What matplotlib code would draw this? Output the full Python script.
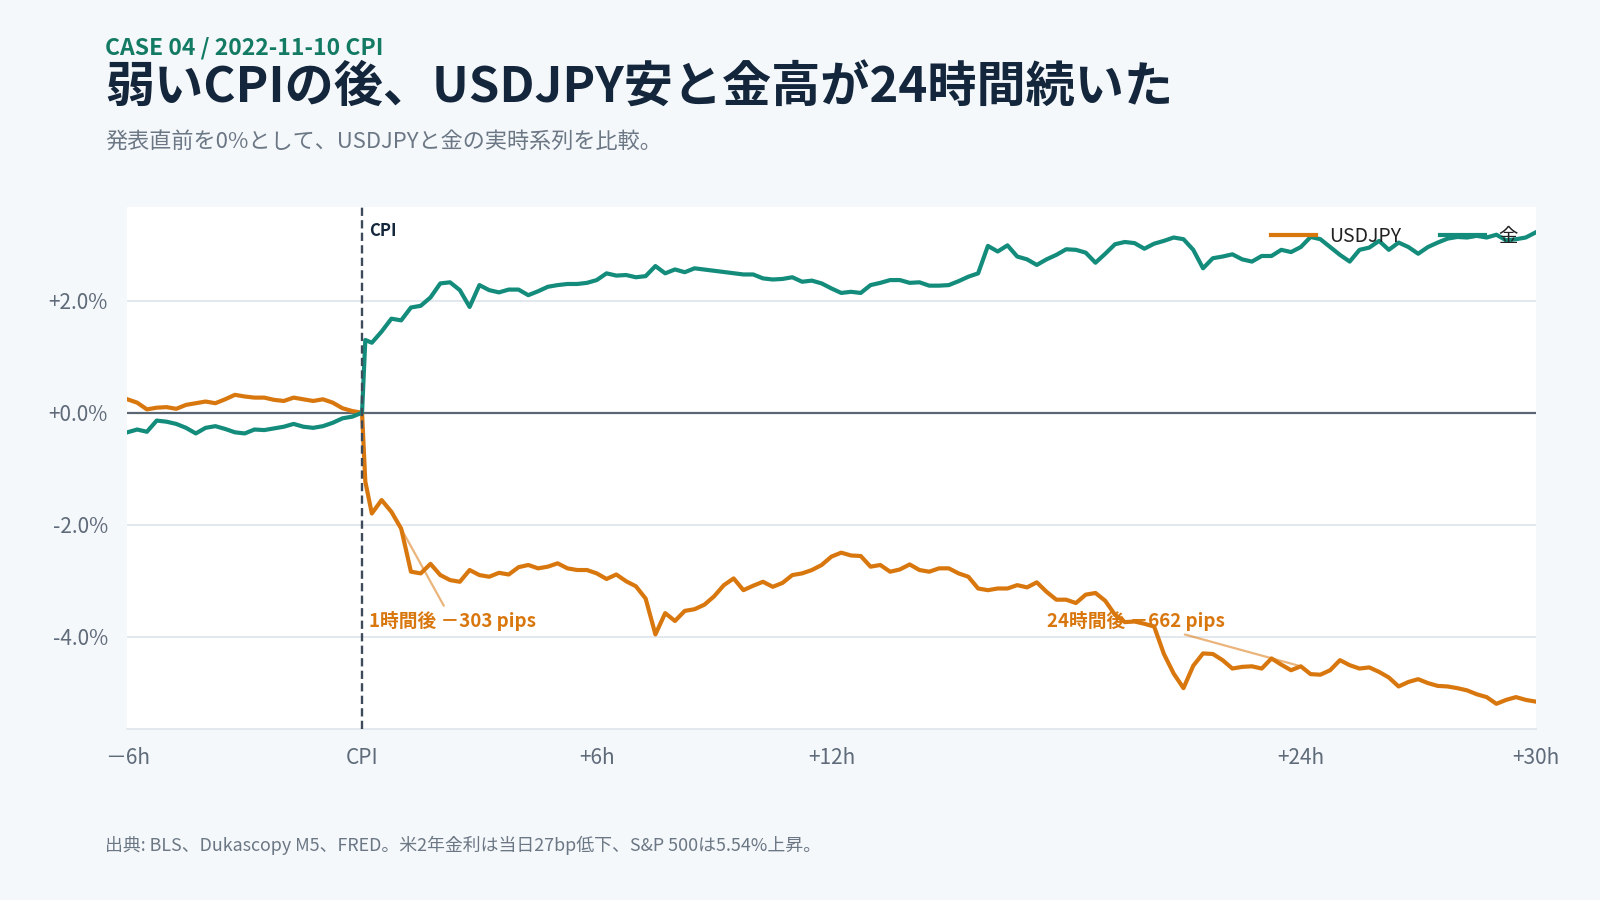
import numpy as np
import matplotlib
matplotlib.use("Agg")
import matplotlib.pyplot as plt

plt.rcParams['font.family'] = ['Noto Sans CJK JP', 'DejaVu Sans']

# time axis in hours from the CPI release (15-min bars, plus the first 5-min bar after release)
pre_hours = np.arange(-6, 0.001, 0.25)
post_hours = np.arange(0.25, 30.001, 0.25)
hours = np.concatenate([pre_hours, [1 / 12], post_hours])

# % change vs. the bar just before the release
usdjpy_pre = [0.24, 0.18, 0.06, 0.09, 0.10, 0.07, 0.14, 0.17, 0.20, 0.17, 0.24, 0.32,
              0.29, 0.27, 0.27, 0.23, 0.21, 0.27, 0.24, 0.21, 0.24, 0.18, 0.08, 0.03, 0.00]
usdjpy_first = [-1.23]
usdjpy_post = [
    -1.80, -1.56, -1.77, -2.07,   # +1h
    -2.84, -2.87, -2.70, -2.90,
    -2.99, -3.02, -2.81, -2.90,
    -2.93, -2.86, -2.89, -2.76,
    -2.72, -2.78, -2.75, -2.69,   # +5h
    -2.78, -2.81, -2.81, -2.87,
    -2.97, -2.89, -3.01, -3.10,
    -3.32, -3.96, -3.58, -3.72,
    -3.54, -3.51, -3.43, -3.28,
    -3.08, -2.96, -3.17, -3.09,   # +10h
    -3.02, -3.11, -3.04, -2.90,
    -2.87, -2.81, -2.72, -2.57,
    -2.50, -2.55, -2.56, -2.75,
    -2.72, -2.84, -2.80, -2.71,
    -2.81, -2.84, -2.78, -2.78,   # +15h
    -2.87, -2.93, -3.14, -3.17,
    -3.14, -3.14, -3.08, -3.12,
    -3.03, -3.20, -3.34, -3.34,
    -3.40, -3.25, -3.22, -3.36,
    -3.61, -3.74, -3.73, -3.77,   # +20h
    -3.82, -4.31, -4.66, -4.92,
    -4.52, -4.30, -4.31, -4.42,
    -4.57, -4.54, -4.53, -4.57,
    -4.39, -4.50, -4.60, -4.53,   # +24h
    -4.67, -4.68, -4.60, -4.42,
    -4.51, -4.57, -4.55, -4.63,
    -4.73, -4.89, -4.81, -4.76,
    -4.83, -4.88, -4.89, -4.92,
    -4.96, -5.03, -5.08, -5.20,
    -5.13, -5.08, -5.13, -5.16,   # +30h
]

gold_pre = [-0.35, -0.30, -0.34, -0.14, -0.16, -0.20, -0.27, -0.37, -0.27, -0.24, -0.29, -0.35,
            -0.37, -0.30, -0.31, -0.28, -0.25, -0.20, -0.25, -0.27, -0.24, -0.18, -0.10, -0.07, 0.00]
gold_first = [1.30]
gold_post = [
    1.25, 1.45, 1.68, 1.65,   # +1h
    1.88, 1.91, 2.06, 2.31,
    2.33, 2.19, 1.89, 2.28,
    2.19, 2.15, 2.20, 2.20,
    2.10, 2.17, 2.25, 2.28,   # +5h
    2.30, 2.30, 2.32, 2.37,
    2.49, 2.45, 2.46, 2.42,
    2.44, 2.62, 2.49, 2.56,
    2.51, 2.58, None, None,   # no quotes
    None, None, 2.47, 2.47,   # +10h
    2.40, 2.38, 2.39, 2.42,
    2.34, 2.36, 2.31, 2.22,
    2.14, 2.16, 2.14, 2.28,
    2.32, 2.37, 2.37, 2.32,
    2.33, 2.27, 2.27, 2.28,   # +15h
    2.35, 2.43, 2.49, 2.98,
    2.88, 2.99, 2.79, 2.74,
    2.64, 2.74, 2.82, 2.92,
    2.91, 2.86, 2.68, 2.84,
    3.01, 3.05, 3.03, 2.93,   # +20h
    3.02, 3.07, 3.13, 3.10,
    2.91, 2.58, 2.76, 2.79,
    2.83, 2.74, 2.70, 2.80,
    2.80, 2.91, 2.87, 2.96,   # +24h
    3.14, 3.10, 2.96, 2.82,
    2.70, 2.91, 2.95, 3.07,
    2.91, 3.04, 2.96, 2.84,
    2.96, 3.04, 3.11, 3.14,
    3.13, 3.16, 3.13, 3.18,
    3.08, 3.10, 3.13, 3.22,   # +30h
]

x_ticks = [-6, 0, 6, 12, 24, 30]
x_tick_labels = ['\uff0d6h', 'CPI', '+6h', '+12h', '+24h', '+30h']
y_ticks = [-4, -2, 0, 2]
y_tick_labels = ['-4.0%', '-2.0%', '+0.0%', '+2.0%']

notes = [(1, -2.07, '1時間後 \uff0d303 pips', (0.17, -3.72)),
         (24, -4.53, '24時間後 \uff0d662 pips', (17.5, -3.72))]

ORANGE = '#d9770f'
TEAL = '#138c7c'
NAVY = '#13263b'
GRAY = '#6b7785'

usdjpy = np.array(usdjpy_pre + usdjpy_first + usdjpy_post, dtype=float)
gold = np.array(gold_pre + gold_first + gold_post, dtype=float)
ok = ~np.isnan(gold)

fig = plt.figure(figsize=(16, 9), dpi=100, facecolor='#f5f8fa')
ax = fig.add_axes([0.0796, 0.19, 0.8801, 0.5803])
ax.set_facecolor('white')

ax.plot(hours, usdjpy, color=ORANGE, lw=3.0, label='USDJPY', zorder=3)
ax.plot(hours[ok], gold[ok], color=TEAL, lw=3.0, label='金', zorder=3)

ax.axhline(0, color='#5b6675', lw=1.6, zorder=2)
ax.axvline(0, color='#3d4a5a', lw=1.7, dashes=(3.5, 1.8), zorder=4)
ax.text(0.17, 3.24, 'CPI', color=NAVY, fontsize=12, fontweight='bold', va='center')

for hx, hy, label, pos in notes:
    ax.annotate(label, xy=(hx, hy), xytext=pos, ha='left', va='center',
                color=ORANGE, fontsize=13.5, fontweight='bold',
                arrowprops=dict(arrowstyle='-', color=ORANGE, alpha=0.55, lw=1.6,
                                shrinkA=2, shrinkB=2))

ax.set_xlim(-6, 30)
ax.set_ylim(-5.65, 3.68)
ax.set_xticks(x_ticks)
ax.set_xticklabels(x_tick_labels)
ax.set_yticks(y_ticks)
ax.set_yticklabels(y_tick_labels)
ax.tick_params(length=0, labelsize=15, labelcolor='#5f6b7a')
ax.tick_params(axis='x', pad=13)
ax.tick_params(axis='y', pad=14)
ax.yaxis.grid(True, color='#e3e8ee', lw=1.4)
ax.set_axisbelow(True)
for side in ['top', 'right', 'left']:
    ax.spines[side].set_visible(False)
ax.spines['bottom'].set_color('#e3e8ee')
ax.spines['bottom'].set_linewidth(1.4)

ax.legend(loc='upper right', ncol=2, frameon=False, fontsize=14,
          handlelength=2.3, handletextpad=0.7, columnspacing=2.0,
          bbox_to_anchor=(1.0, 0.997), labelcolor='#222222')

fig.text(0.0656, 0.9465, 'CASE 04 / 2022-11-10 CPI', color='#137a63',
         fontsize=16.5, fontweight='bold', va='center')
fig.text(0.0656, 0.9025, '弱いCPIの後、USDJPY安と金高が24時間続いた', color=NAVY,
         fontsize=35.4, fontweight='bold', va='center')
fig.text(0.0656, 0.8423, '発表直前を0%として、USDJPYと金の実時系列を比較。', color=GRAY,
         fontsize=15.9, va='center')
fig.text(0.0656, 0.0611, '出典: BLS、Dukascopy M5、FRED。米2年金利は当日27bp低下、S&P 500は5.54%上昇。',
         color=GRAY, fontsize=12.9, va='center')

fig.savefig('out.png', dpi=100, facecolor=fig.get_facecolor())
